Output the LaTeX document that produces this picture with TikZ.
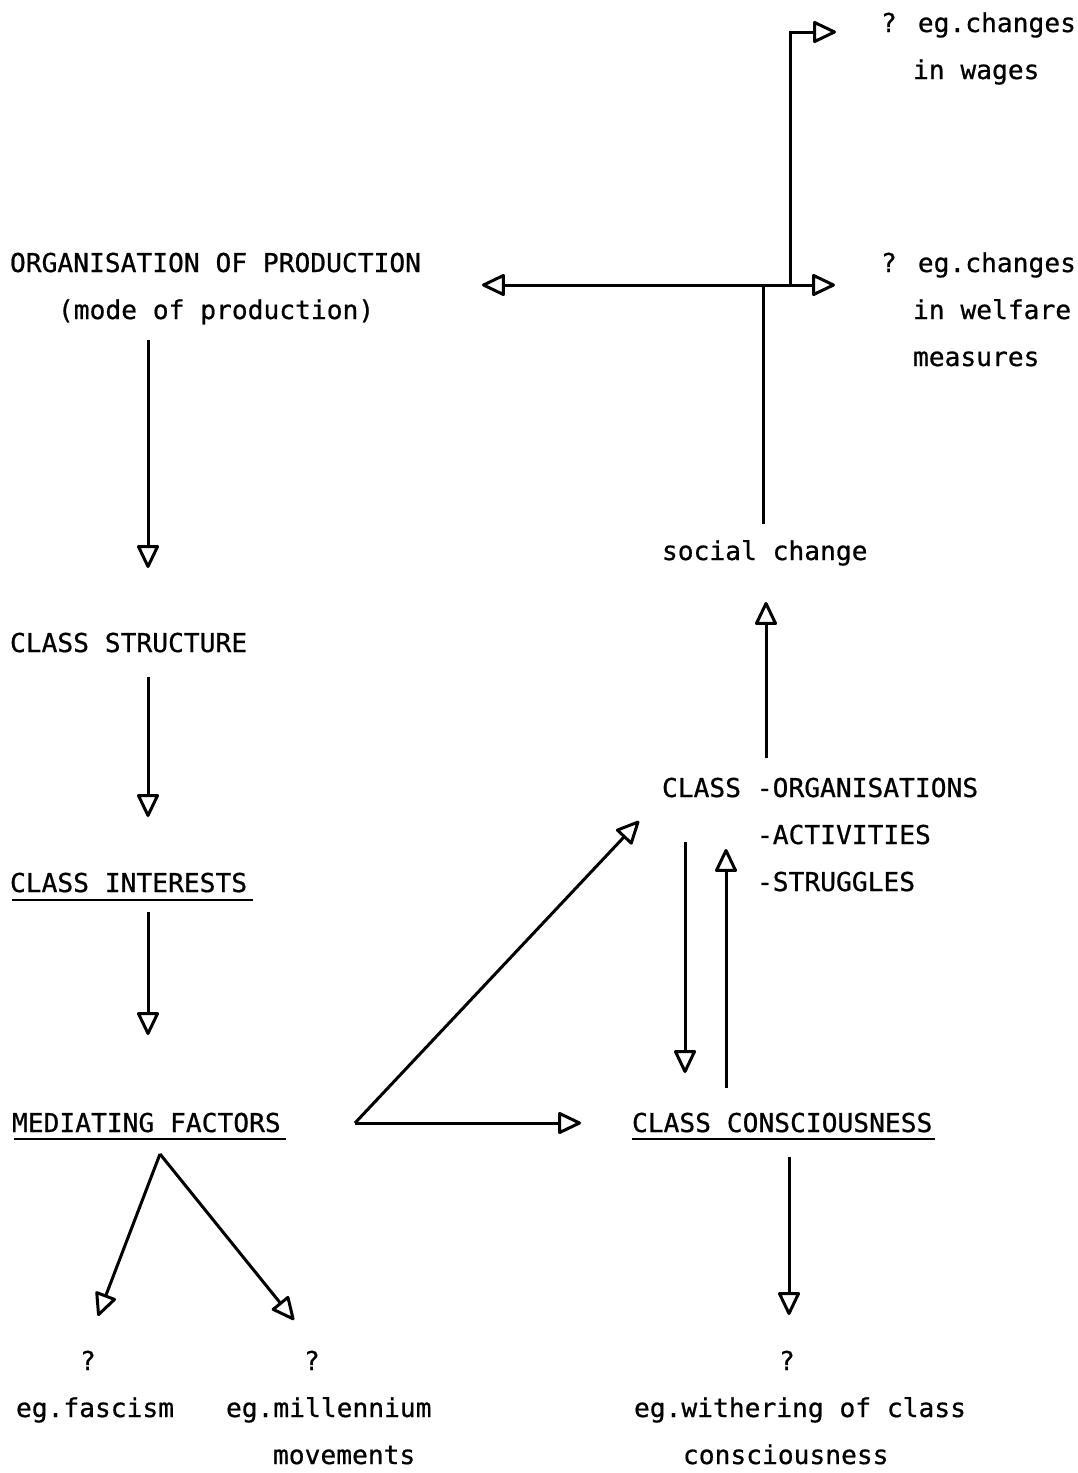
\documentclass[tikz,border=0pt]{standalone}
\usepackage{fontspec}
\usetikzlibrary{arrows.meta}
\newfontfamily\typewriter[FakeStretch=1.01,FakeBold=0.7]{DejaVu Sans Mono}
\begin{document}
\begin{tikzpicture}[x=1pt,y=-1pt,
  txt/.style={anchor=base west, inner sep=0pt, outer sep=0pt,
              font=\typewriter\fontsize{26}{30}\selectfont},
  head/.tip={Triangle[open, round, length=25pt, width=23pt]},
  flow/.style={line width=3pt, -head},
  both/.style={line width=3pt, head-head},
  plain/.style={line width=3pt},
  uline/.style={line width=2.4pt}]
\useasboundingbox[fill=white] (0,0) rectangle (1078,1473);

% ---- labels ----
\node[txt] (wq)   at (881,32)   {? eg.changes};
\node[txt] (wq2)  at (913,79)   {in wages};
\node[txt] (fq)   at (881,272)  {? eg.changes};
\node[txt] (fq2)  at (913,319)  {in welfare};
\node[txt] (fq3)  at (913,366)  {measures};
\node[txt] (org)  at (10,272)   {ORGANISATION OF PRODUCTION};
\node[txt] (mode) at (58,319)   {(mode of production)};
\node[txt] (soc)  at (662,560)  {social change};
\node[txt] (cs)   at (10,652)   {CLASS STRUCTURE};
\node[txt] (ci)   at (10,892)   {CLASS INTERESTS};
\node[txt] (mf)   at (12,1132)  {MEDIATING FACTORS};
\node[txt] (co)   at (662,797)  {CLASS -ORGANISATIONS};
\node[txt] (coa)  at (757,844)  {-ACTIVITIES};
\node[txt] (cos)  at (757,891)  {-STRUGGLES};
\node[txt] (cc)   at (632,1132) {CLASS CONSCIOUSNESS};
\node[txt] (q1)   at (80,1370)  {?};
\node[txt] (fas)  at (16,1417)  {eg.fascism};
\node[txt] (q2)   at (304,1370) {?};
\node[txt] (mil)  at (226,1417) {eg.millennium};
\node[txt] (mov)  at (273,1464) {movements};
\node[txt] (q3)   at (779,1370) {?};
\node[txt] (wit)  at (634,1417) {eg.withering of class};
\node[txt] (cons) at (683,1464) {consciousness};

% ---- underlines ----
\draw[uline] ([yshift=-8pt,xshift=2pt]ci.base west) -- ([yshift=-8pt,xshift=6pt]ci.base east);
\draw[uline] ([yshift=-7pt,xshift=2pt]mf.base west) -- ([yshift=-7pt,xshift=5pt]mf.base east);
\draw[uline] ([yshift=-7pt]cc.base west) -- ([yshift=-7pt,xshift=3pt]cc.base east);

% ---- connector end points ----
\coordinate (org-out)  at (148,340);
\coordinate (cs-in)    at (148,568);
\coordinate (cs-out)   at (148,677);
\coordinate (ci-in)    at (148,817);
\coordinate (ci-out)   at (148,912);
\coordinate (mf-in)    at (148,1035);
\coordinate (mf-down)  at (160,1154);
\coordinate (fas-in)   at (98,1316);
\coordinate (mil-in)   at (294,1320);
\coordinate (mf-right) at (355,1123);
\coordinate (cc-in)    at (581,1123);
\coordinate (co-in)    at (639,821);
\coordinate (co-down)  at (685,842);
\coordinate (cc-top)   at (685,1073);
\coordinate (cc-up)    at (726,1088);
\coordinate (co-bot)   at (726,849);
\coordinate (cc-out)   at (789,1157);
\coordinate (wit-in)   at (789,1315);
\coordinate (co-up)    at (766,758);
\coordinate (soc-in)   at (766,602);
\coordinate (soc-out)  at (763,524);
\coordinate (hub)      at (763,287);
\coordinate (org-in)   at (482,285);
\coordinate (fq-in)    at (835,285);
\coordinate (riser)    at (790,285);
\coordinate (corner)   at (790,32);
\coordinate (wq-in)    at (836,32);

% ---- connectors ----
\draw[flow] (org-out) -- (cs-in);
\draw[flow] (cs-out) -- (ci-in);
\draw[flow] (ci-out) -- (mf-in);
\draw[flow] (mf-down) -- (fas-in);
\draw[flow] (mf-down) -- (mil-in);
\draw[flow] (mf-right) -- (cc-in);
\draw[flow] (mf-right) -- (co-in);
\draw[flow] (co-down) -- (cc-top);
\draw[flow] (cc-up) -- (co-bot);
\draw[flow] (cc-out) -- (wit-in);
\draw[flow] (co-up) -- (soc-in);
\draw[plain] (soc-out) -- (hub);
\draw[both] (org-in) -- (fq-in);
\draw[flow, line join=miter] (riser) -- (corner) -- (wq-in);
\end{tikzpicture}
\end{document}
